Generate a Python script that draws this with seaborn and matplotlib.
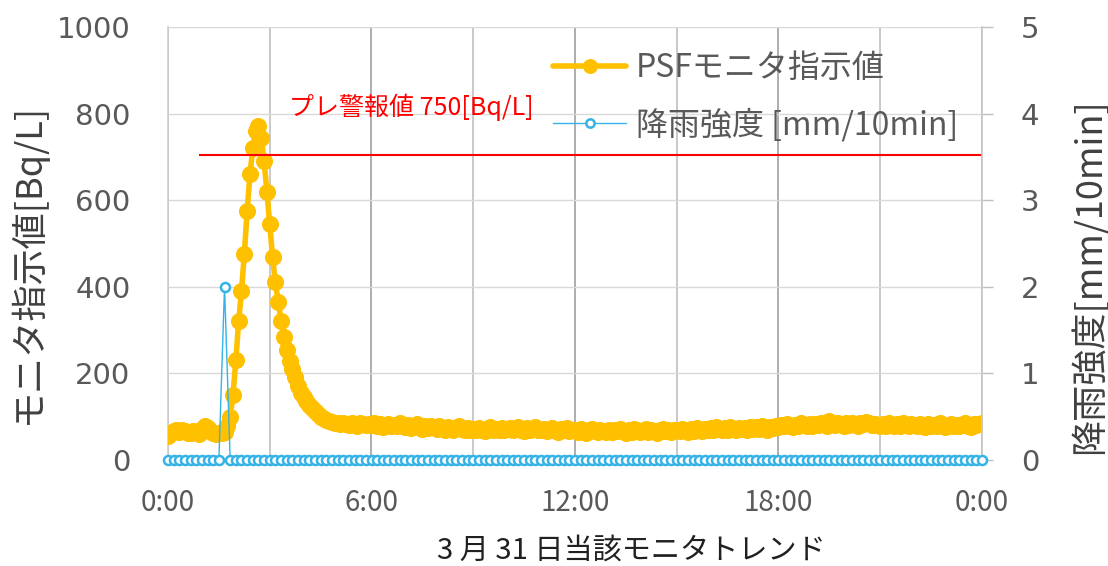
import numpy as np
import matplotlib
matplotlib.use("Agg")
import matplotlib.pyplot as plt
import seaborn as sns
from matplotlib.ticker import FixedLocator

# ---------------- data ----------------
# PSF monitor reading [Bq/L], every 5 minutes from 0:00 to 24:00 (rows = hours)
psf_h00 = [55, 62, 66, 68, 64, 70, 66, 61, 63, 67, 64, 60]
psf_h01 = [72, 77, 74, 66, 62, 60, 63, 61, 65, 78, 100, 150]
psf_h02 = [230, 320, 390, 475, 575, 660, 720, 760, 772, 745, 690, 620]
psf_h03 = [545, 468, 410, 365, 322, 285, 255, 228, 210, 192, 170, 155]
psf_h04 = [145, 135, 127, 120, 113, 107, 100, 96, 92, 90, 87, 85]
psf_h05 = [84, 82, 86, 83, 80, 84, 81, 79, 85, 82, 80, 83]
psf_h06 = [80, 84, 79, 82, 76, 80, 83, 78, 81, 77, 84, 79]
psf_h07 = [76, 80, 74, 78, 82, 75, 71, 77, 73, 79, 75, 72]
psf_h08 = [78, 74, 70, 76, 72, 68, 74, 77, 71, 69, 73, 70]
psf_h09 = [72, 68, 74, 70, 66, 71, 75, 69, 72, 68, 73, 70]
psf_h10 = [71, 74, 68, 72, 76, 70, 67, 73, 69, 71, 75, 70]
psf_h11 = [68, 72, 66, 70, 74, 69, 65, 71, 68, 73, 67, 70]
psf_h12 = [69, 65, 71, 67, 63, 68, 72, 66, 64, 70, 67, 65]
psf_h13 = [68, 64, 70, 66, 72, 67, 63, 69, 65, 71, 68, 64]
psf_h14 = [67, 71, 65, 69, 66, 62, 68, 72, 66, 70, 64, 68]
psf_h15 = [70, 66, 72, 68, 65, 71, 67, 73, 69, 66, 72, 70]
psf_h16 = [74, 70, 76, 72, 68, 73, 70, 75, 71, 69, 74, 72]
psf_h17 = [73, 70, 76, 72, 75, 71, 77, 74, 70, 76, 73, 78]
psf_h18 = [76, 80, 77, 82, 78, 75, 81, 79, 84, 80, 77, 82]
psf_h19 = [79, 83, 80, 86, 82, 79, 90, 84, 80, 85, 82, 79]
psf_h20 = [84, 81, 86, 83, 79, 85, 82, 87, 84, 80, 83, 81]
psf_h21 = [78, 82, 79, 84, 80, 77, 83, 79, 86, 81, 78, 82]
psf_h22 = [80, 77, 83, 79, 76, 82, 78, 81, 77, 84, 80, 76]
psf_h23 = [79, 83, 78, 81, 77, 80, 84, 79, 76, 82, 80, 83]
psf_h24 = [84]

# Rain intensity [mm/10min], every 10 minutes from 0:00 to 24:00
rain = [0.0] * 10 + [2.0] + [0.0] * 134

pre_alarm_value = 705          # drawn level of the pre-alarm line
pre_alarm_start_h = 0.92
pre_alarm_label = "プレ警報値 750[Bq/L]"

x_tick_hours = [0, 6, 12, 18, 24]
x_tick_labels = ["0:00", "6:00", "12:00", "18:00", "0:00"]
left_ticks = [0, 200, 400, 600, 800, 1000]
right_ticks = [0, 1, 2, 3, 4, 5]

psf_label = "PSFモニタ指示値"
rain_label = "降雨強度 [mm/10min]"
left_ylabel = "モニタ指示値[Bq/L]"
right_ylabel = "降雨強度[mm/10min]"
caption = "3 月 31 日当該モニタトレンド"

psf = (psf_h00 + psf_h01 + psf_h02 + psf_h03 + psf_h04 + psf_h05 + psf_h06 + psf_h07
       + psf_h08 + psf_h09 + psf_h10 + psf_h11 + psf_h12 + psf_h13 + psf_h14 + psf_h15
       + psf_h16 + psf_h17 + psf_h18 + psf_h19 + psf_h20 + psf_h21 + psf_h22 + psf_h23 + psf_h24)
psf_t = np.arange(len(psf)) * 5 / 60.0
rain_t = np.arange(len(rain)) * 10 / 60.0

# ---------------- style ----------------
sns.set_theme(style="white")
plt.rcParams["font.family"] = ["Noto Sans CJK JP", "DejaVu Sans"]

ORANGE = "#FFC000"
BLUE = "#35B3E6"
TICK_GRAY = "#595959"

W, H = 1108, 566
fig = plt.figure(figsize=(W / 100, H / 100), dpi=100)
L, R, T, B = 168, 982, 27.3, 459.8
ax = fig.add_axes([L / W, 1 - B / H, (R - L) / W, (B - T) / H])
ax2 = ax.twinx()

sns.lineplot(x=psf_t, y=psf, ax=ax, color=ORANGE, linewidth=4, marker="o",
             markersize=11.5, markeredgecolor=ORANGE, markerfacecolor=ORANGE,
             legend=False, zorder=3)
ax.hlines(pre_alarm_value, pre_alarm_start_h, 24, color="#FF0000", linewidth=1.5, zorder=5)
ax.text(3.57, 816, pre_alarm_label, color="#FF0000", fontsize=18, va="center", ha="left")

sns.lineplot(x=rain_t, y=rain, ax=ax2, color=BLUE, linewidth=1.0, marker="o",
             markersize=6.5, markeredgecolor=BLUE, markerfacecolor="white",
             markeredgewidth=1.8, legend=False, clip_on=False, zorder=4)

ax.set_xlim(0, 24)
ax.set_ylim(0, 1000)
ax2.set_ylim(0, 5)

ax.xaxis.set_major_locator(FixedLocator(x_tick_hours))
ax.xaxis.set_minor_locator(FixedLocator([3, 9, 15, 21]))
ax.set_xticklabels(x_tick_labels)
ax.set_yticks(left_ticks)
ax2.set_yticks(right_ticks)

ax.grid(axis="y", color="#d9d9d9", linewidth=1.0)
ax.grid(axis="x", which="major", color="#a0a0a0", linewidth=1.2)
ax.grid(axis="x", which="minor", color="#c0c0c0", linewidth=1.2)
ax.set_axisbelow(True)

for a in (ax, ax2):
    for s in ("top", "bottom"):
        a.spines[s].set_visible(False)
    a.spines["left"].set_color("#d0d0d0")
    a.spines["right"].set_color("#c8c8c8")
ax2.spines["left"].set_visible(False)
ax.spines["right"].set_visible(False)

ax.tick_params(axis="x", which="both", length=0, pad=20, labelsize=20, labelcolor=TICK_GRAY)
ax.tick_params(axis="y", length=0, pad=27, labelsize=21, labelcolor=TICK_GRAY)
ax2.tick_params(axis="y", length=8, width=1, color="#c0c0c0", pad=20, labelsize=21,
                labelcolor=TICK_GRAY, right=True)
for lab in ax.get_yticklabels() + ax2.get_yticklabels():
    lab.set_fontfamily("DejaVu Sans")

ax.set_xlabel("")
ax.set_ylabel("")
ax2.set_ylabel("")
fig.text(28 / W, 1 - 263 / H, left_ylabel, rotation=90, fontsize=26, color="#404040",
         ha="center", va="center")
fig.text(1089 / W, 1 - 276 / H, right_ylabel, rotation=90, fontsize=26, color="#404040",
         ha="center", va="center")
fig.text(631 / W, 1 - 551 / H, caption, fontsize=21, color="#202020", ha="center", va="center")

h1 = ax.get_lines()[0]
h2 = ax2.get_lines()[0]
leg = ax2.legend([h1, h2], [psf_label, rain_label], loc="upper left",
                 bbox_to_anchor=(553 / W, 1 - 52 / H), bbox_transform=fig.transFigure,
                 frameon=False, fontsize=23, handlelength=2.3, handletextpad=0.3,
                 labelspacing=0.75, borderpad=0, borderaxespad=0)
for t in leg.get_texts():
    t.set_color(TICK_GRAY)
leg.legend_handles[0].set_markersize(10)
leg.legend_handles[1].set_markersize(6)

fig.savefig("out.png", dpi=100)
